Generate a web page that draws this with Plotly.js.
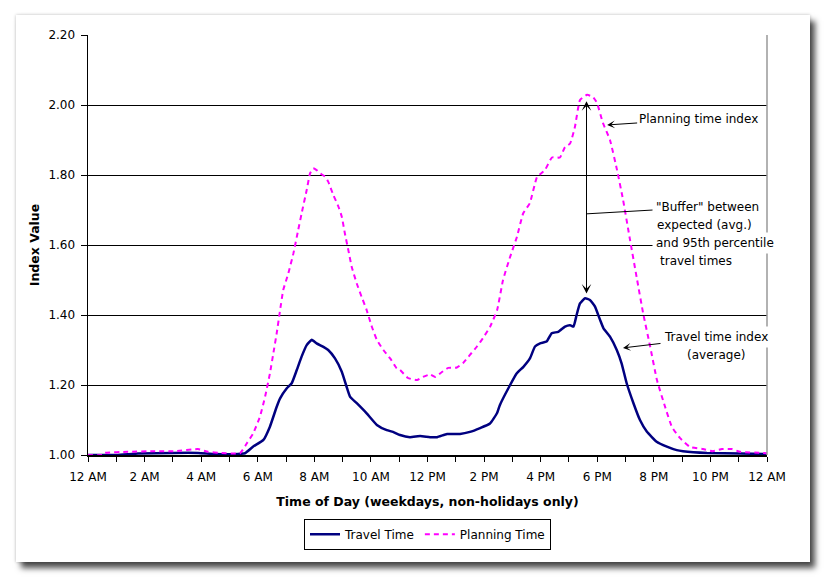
<!DOCTYPE html>
<html>
<head>
<meta charset="utf-8">
<script src="https://cdn.plot.ly/plotly-3.0.1.min.js"></script>
<style>
  html, body { margin: 0; padding: 0; background: #ffffff; }
  #frame { position: absolute; left: 16px; top: 15px; width: 794px; height: 547px; background: #ffffff;
           box-shadow: 5px 6px 6px rgba(0,0,0,0.7), 0 0 3px rgba(0,0,0,0.25); }
  #chart { position: absolute; left: 0; top: 0; width: 828px; height: 580px; }
</style>
</head>
<body>
<div id="frame"></div>
<div id="chart"></div>
<script>
// ---- data (hours after midnight, index values) ----
const travelHours = [0.0, 1.0, 1.77, 3.0, 3.89, 4.5, 5.30, 5.55, 5.84, 6.20, 6.43, 6.67, 6.79, 7.02, 7.20, 7.38, 7.55, 7.73, 7.91, 8.08, 8.32, 8.49, 8.73, 8.97, 9.14, 9.26, 9.50, 9.85, 10.21, 10.56, 10.78, 11.03, 11.38, 11.74, 12.09, 12.34, 12.69, 13.15, 13.50, 13.86, 14.21, 14.46, 14.56, 14.92, 15.15, 15.39, 15.62, 15.80, 15.98, 16.21, 16.39, 16.62, 16.86, 17.04, 17.16, 17.27, 17.39, 17.57, 17.74, 17.92, 18.10, 18.22, 18.45, 18.69, 18.86, 19.04, 19.28, 19.51, 19.75, 20.10, 20.46, 20.81, 21.03, 21.88, 23.05, 24.0];
const travelIndex = [1.000, 1.000, 1.004, 1.006, 1.006, 1.003, 1.003, 1.005, 1.024, 1.043, 1.081, 1.138, 1.162, 1.190, 1.205, 1.243, 1.281, 1.314, 1.329, 1.319, 1.309, 1.300, 1.276, 1.238, 1.195, 1.167, 1.148, 1.119, 1.086, 1.071, 1.066, 1.057, 1.051, 1.054, 1.051, 1.051, 1.060, 1.060, 1.066, 1.077, 1.090, 1.120, 1.143, 1.200, 1.233, 1.252, 1.276, 1.310, 1.319, 1.324, 1.348, 1.352, 1.367, 1.371, 1.367, 1.400, 1.433, 1.448, 1.443, 1.424, 1.386, 1.362, 1.338, 1.300, 1.262, 1.205, 1.148, 1.100, 1.067, 1.038, 1.024, 1.014, 1.011, 1.006, 1.004, 1.003];

const planHours = [0.0, 0.5, 0.6, 1.41, 2.37, 3.08, 3.89, 4.24, 4.70, 5.37, 5.61, 5.84, 6.08, 6.26, 6.43, 6.55, 6.67, 6.79, 6.90, 7.08, 7.26, 7.43, 7.55, 7.73, 7.85, 7.96, 8.08, 8.20, 8.38, 8.49, 8.67, 8.85, 8.97, 9.08, 9.20, 9.32, 9.50, 9.67, 9.85, 10.03, 10.21, 10.44, 10.68, 10.91, 11.03, 11.31, 11.63, 11.84, 12.09, 12.27, 12.51, 12.73, 13.04, 13.26, 13.50, 13.75, 13.96, 14.21, 14.46, 14.67, 14.92, 15.16, 15.38, 15.62, 15.87, 16.15, 16.40, 16.68, 16.86, 17.04, 17.21, 17.39, 17.64, 17.85, 17.99, 18.20, 18.45, 18.70, 18.91, 19.16, 19.41, 19.62, 19.87, 20.11, 20.40, 20.64, 20.92, 21.28, 21.74, 22.09, 22.41, 22.76, 23.05, 23.86, 24.0];
const planIndex = [1.000, 1.000, 1.006, 1.009, 1.011, 1.011, 1.017, 1.009, 1.006, 1.005, 1.033, 1.062, 1.110, 1.167, 1.233, 1.290, 1.348, 1.414, 1.471, 1.519, 1.576, 1.643, 1.690, 1.757, 1.805, 1.819, 1.814, 1.805, 1.795, 1.781, 1.743, 1.710, 1.681, 1.633, 1.586, 1.538, 1.490, 1.452, 1.414, 1.367, 1.329, 1.300, 1.276, 1.248, 1.243, 1.220, 1.214, 1.223, 1.230, 1.223, 1.237, 1.249, 1.250, 1.263, 1.286, 1.310, 1.334, 1.366, 1.414, 1.500, 1.566, 1.623, 1.690, 1.720, 1.794, 1.814, 1.850, 1.850, 1.880, 1.890, 1.937, 2.014, 2.029, 2.023, 2.006, 1.949, 1.900, 1.814, 1.730, 1.614, 1.500, 1.406, 1.310, 1.214, 1.137, 1.080, 1.049, 1.023, 1.017, 1.011, 1.017, 1.017, 1.009, 1.006, 1.005];

const xTickVals = [0, 2, 4, 6, 8, 10, 12, 14, 16, 18, 20, 22, 24];
const xTickText = ['12 AM', '2 AM', '4 AM', '6 AM', '8 AM', '10 AM', '12 PM', '2 PM', '4 PM', '6 PM', '8 PM', '10 PM', '12 AM'];
const xMinorVals = [1, 3, 5, 7, 9, 11, 13, 15, 17, 19, 21, 23];
const yTickVals = [1.0, 1.2, 1.4, 1.6, 1.8, 2.0, 2.2];

const seriesNames = ['Travel Time', 'Planning Time'];

// buffer arrow: from travel-time peak to planning-time peak
const bufferHour = 17.62;
const bufferLow = 1.457;
const bufferHigh = 2.011;

const FONT = 'DejaVu Sans, Verdana, sans-serif';

const traces = [
  { x: travelHours, y: travelIndex, name: seriesNames[0], type: 'scatter', mode: 'lines',
    line: { color: '#000080', width: 2.5, shape: 'spline', smoothing: 0.4 } },
  { x: planHours, y: planIndex, name: seriesNames[1], type: 'scatter', mode: 'lines',
    line: { color: '#FF00FF', width: 2, dash: '5px,4px', shape: 'spline', smoothing: 0.4 } }
];

const annFont = { family: FONT, size: 12, color: '#000' };

const annotations = [
  // Planning time index label
  { xref: 'x', yref: 'y', x: 18.35, y: 1.943, ax: 91, ay: -6, text: 'Planning time index',
    showarrow: true, arrowhead: 3, arrowsize: 1.3, arrowwidth: 1, arrowcolor: '#000',
    font: annFont, bgcolor: '#fff', borderpad: 1 },
  // buffer double arrow
  { xref: 'x', yref: 'y', x: bufferHour, y: bufferHigh, axref: 'x', ayref: 'y', ax: bufferHour, ay: bufferLow,
    text: '', showarrow: true, arrowhead: 3, startarrowhead: 3, arrowside: 'end+start',
    arrowsize: 1.6, startarrowsize: 1.6, arrowwidth: 1, arrowcolor: '#000' },
  // buffer text lines
  { xref: 'x', yref: 'y', x: bufferHour, y: 1.689, ax: 121, ay: -7, text: '"Buffer" between',
    showarrow: true, arrowhead: 0, arrowwidth: 1, arrowcolor: '#000',
    font: annFont, bgcolor: '#fff', borderpad: 3 },
  { xref: 'paper', yref: 'paper', x: (653 - 88) / 679, y: (455 - 225) / 420, xanchor: 'left', yanchor: 'middle',
    text: 'expected (avg.)', showarrow: false, font: annFont, bgcolor: '#fff', borderpad: 3 },
  { xref: 'paper', yref: 'paper', x: (652 - 88) / 679, y: (455 - 243) / 420, xanchor: 'left', yanchor: 'middle',
    text: 'and 95th percentile', showarrow: false, font: annFont, bgcolor: '#fff', borderpad: 3 },
  { xref: 'paper', yref: 'paper', x: (656 - 88) / 679, y: (455 - 261) / 420, xanchor: 'left', yanchor: 'middle',
    text: 'travel times', showarrow: false, font: annFont, bgcolor: '#fff', borderpad: 3 },
  // travel time index label
  { xref: 'x', yref: 'y', x: 18.91, y: 1.306, ax: 93, ay: -11, text: 'Travel time index',
    showarrow: true, arrowhead: 3, arrowsize: 1.3, arrowwidth: 1, arrowcolor: '#000',
    font: annFont, bgcolor: '#fff', borderpad: 3 },
  { xref: 'paper', yref: 'paper', x: (716 - 88) / 679, y: (455 - 355) / 420, xanchor: 'center', yanchor: 'middle',
    text: '(average)', showarrow: false, font: annFont, bgcolor: '#fff', borderpad: 3 }
];

const layout = {
  width: 828, height: 580,
  margin: { l: 88, r: 61, t: 35, b: 125 },
  paper_bgcolor: 'rgba(0,0,0,0)',
  plot_bgcolor: '#ffffff',
  font: { family: FONT, size: 12, color: '#000' },
  showlegend: true,
  legend: {
    orientation: 'h', x: 0.5, xanchor: 'center', y: -0.152, yanchor: 'top',
    bordercolor: '#000', borderwidth: 1, bgcolor: '#fff',
    font: { family: FONT, size: 12, color: '#000' }, itemwidth: 30, tracegroupgap: 0
  },
  xaxis: {
    range: [0, 24], tickmode: 'array', tickvals: xTickVals, ticktext: xTickText,
    ticks: 'outside', ticklen: 5, tickwidth: 1, tickcolor: '#000', ticklabelstandoff: 5,
    minor: { tickmode: 'array', tickvals: xMinorVals, ticks: 'outside', ticklen: 5, tickwidth: 1, tickcolor: '#000', showgrid: false },
    showline: true, linecolor: '#000', linewidth: 1.5, showgrid: false, zeroline: false,
    tickfont: { family: FONT, size: 12, color: '#000' },
    title: { text: 'Time of Day (weekdays, non-holidays only)', font: { family: FONT, size: 12.5, color: '#000', weight: 'bold' }, standoff: 14 }
  },
  yaxis: {
    range: [1.0, 2.2], tickmode: 'array', tickvals: yTickVals, tickformat: '.2f',
    ticks: 'outside', ticklen: 6, tickwidth: 1, tickcolor: '#000', ticklabelstandoff: 3,
    showline: true, linecolor: '#000', linewidth: 1.5,
    showgrid: true, gridcolor: '#000', gridwidth: 1, zeroline: false,
    tickfont: { family: FONT, size: 12, color: '#000' },
    title: { text: 'Index Value', font: { family: FONT, size: 12.5, color: '#000', weight: 'bold' }, standoff: 6 }
  },
  shapes: [
    { type: 'line', xref: 'paper', yref: 'paper', x0: 1, x1: 1, y0: 0, y1: 1, line: { color: '#999', width: 1.5 }, layer: 'above' }
  ],
  annotations: annotations
};

Plotly.newPlot('chart', traces, layout, { displayModeBar: false, staticPlot: true });
</script>
</body>
</html>
